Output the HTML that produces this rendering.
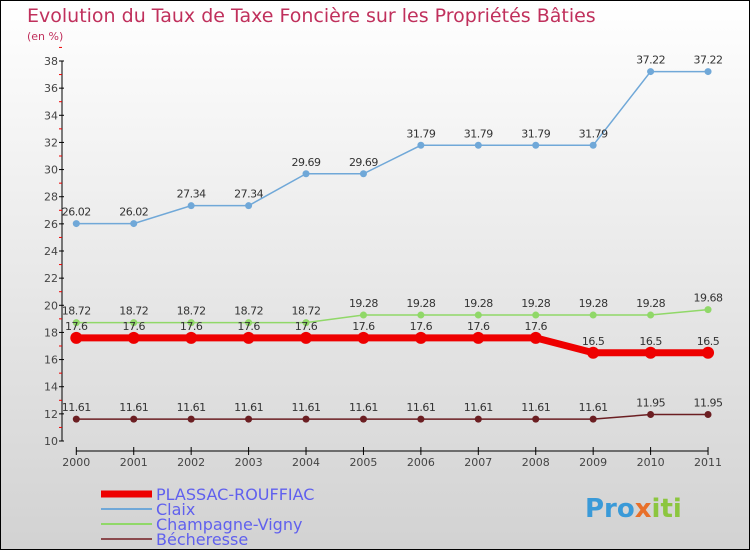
<!DOCTYPE html>
<html><head><meta charset="utf-8"><style>
body{margin:0}
#c{width:748px;height:548px;border:1px solid #000;background:linear-gradient(#fff,#d2d2d2);position:relative;overflow:hidden;font-family:"DejaVu Sans","Liberation Sans",sans-serif}
svg{position:absolute;left:0;top:0}
</style></head><body>
<div id="c">
<svg id="s" width="748" height="548">
<text x="26" y="21" font-size="19" fill="#c0305c">Evolution du Taux de Taxe Foncière sur les Propriétés Bâties</text>
<text x="26" y="39" font-size="11" fill="#c0305c">(en %)</text>
<g id="ax"></g><g id="ser"></g><g id="leg"></g>
<text x="584" y="516" font-size="26" font-weight="bold" fill="#3a9ad8">Pro<tspan fill="#e8702a">x</tspan><tspan fill="#8cc63f">iti</tspan></text>
</svg></div>
<script>
const years=[2000,2001,2002,2003,2004,2005,2006,2007,2008,2009,2010,2011];
const yTicks=[10,12,14,16,18,20,22,24,26,28,30,32,34,36,38];
const plassac=[17.6,17.6,17.6,17.6,17.6,17.6,17.6,17.6,17.6,16.5,16.5,16.5];
const claix=[26.02,26.02,27.34,27.34,29.69,29.69,31.79,31.79,31.79,31.79,37.22,37.22];
const champagne=[18.72,18.72,18.72,18.72,18.72,19.28,19.28,19.28,19.28,19.28,19.28,19.68];
const becheresse=[11.61,11.61,11.61,11.61,11.61,11.61,11.61,11.61,11.61,11.61,11.95,11.95];
const NS="http://www.w3.org/2000/svg";
const X=i=>75.3+i*57.43, Y=v=>440-(v-10)*380/28;
function mk(t,a,p){const e=document.createElementNS(NS,t);for(const k in a)e.setAttribute(k,a[k]);p.appendChild(e);return e;}
const ax=document.getElementById('ax');
let e=mk('line',{x1:61,y1:60,x2:61,y2:440,stroke:'#000'},ax);


yTicks.forEach(v=>{
 mk('line',{x1:58,x2:63,y1:Y(v),y2:Y(v),stroke:'#000'},ax);
 mk('line',{x1:58,x2:61,y1:Y(v+1),y2:Y(v+1),stroke:'#e00'},ax);
 const t=mk('text',{x:57,y:Y(v)+4,'font-size':11,fill:'#444','text-anchor':'end'},ax);t.textContent=v;
 
 
});
e=mk('line',{x1:75,y1:450,x2:707,y2:450,stroke:'#000'},ax);


years.forEach((y,i)=>{
 mk('line',{x1:X(i),x2:X(i),y1:446,y2:454,stroke:'#000'},ax);
 const t=mk('text',{x:X(i),y:465,'font-size':11,fill:'#444','text-anchor':'middle'},ax);t.textContent=y;
 
 
});
const ser=document.getElementById('ser');
function draw(d,col,w,r,name,fmt){
 const g=mk('g',{},ser);
 
 
 mk('polyline',{points:d.map((v,i)=>X(i)+','+Y(v)).join(' '),fill:'none',stroke:col,'stroke-width':w},g);
 d.forEach((v,i)=>{
  const c=mk('circle',{cx:X(i),cy:Y(v),r:r,fill:col},g);
  
  
  const t=mk('text',{x:X(i),y:Y(v)-8,'font-size':11,fill:'#333','text-anchor':'middle','letter-spacing':'-0.5'},g);t.textContent=String(v);
  
  
 });
}
draw(becheresse,'#6b1e22',1.5,3.5,'becheresse');
draw(claix,'#70a8d8',1.5,3.5,'claix');
draw(champagne,'#90d868',1.5,3.5,'champagne-vigny');
draw(plassac,'#ee0000',7,6,'plassac-rouffiac');
const leg=document.getElementById('leg');
[['PLASSAC-ROUFFIAC','#ee0000',7],['Claix','#70a8d8',2],['Champagne-Vigny','#90d868',2],['Bécheresse','#8b4a4e',2]].forEach((l,i)=>{
 const y=493+i*15;
 const g=mk('g',{},leg);
 
 
 mk('line',{x1:100,x2:151,y1:y,y2:y,stroke:l[1],'stroke-width':l[2]},g);
 const t=mk('text',{x:155,y:y+6,'font-size':16,fill:'#6060ee'},g);t.textContent=l[0];
});
</script>
</body></html>
